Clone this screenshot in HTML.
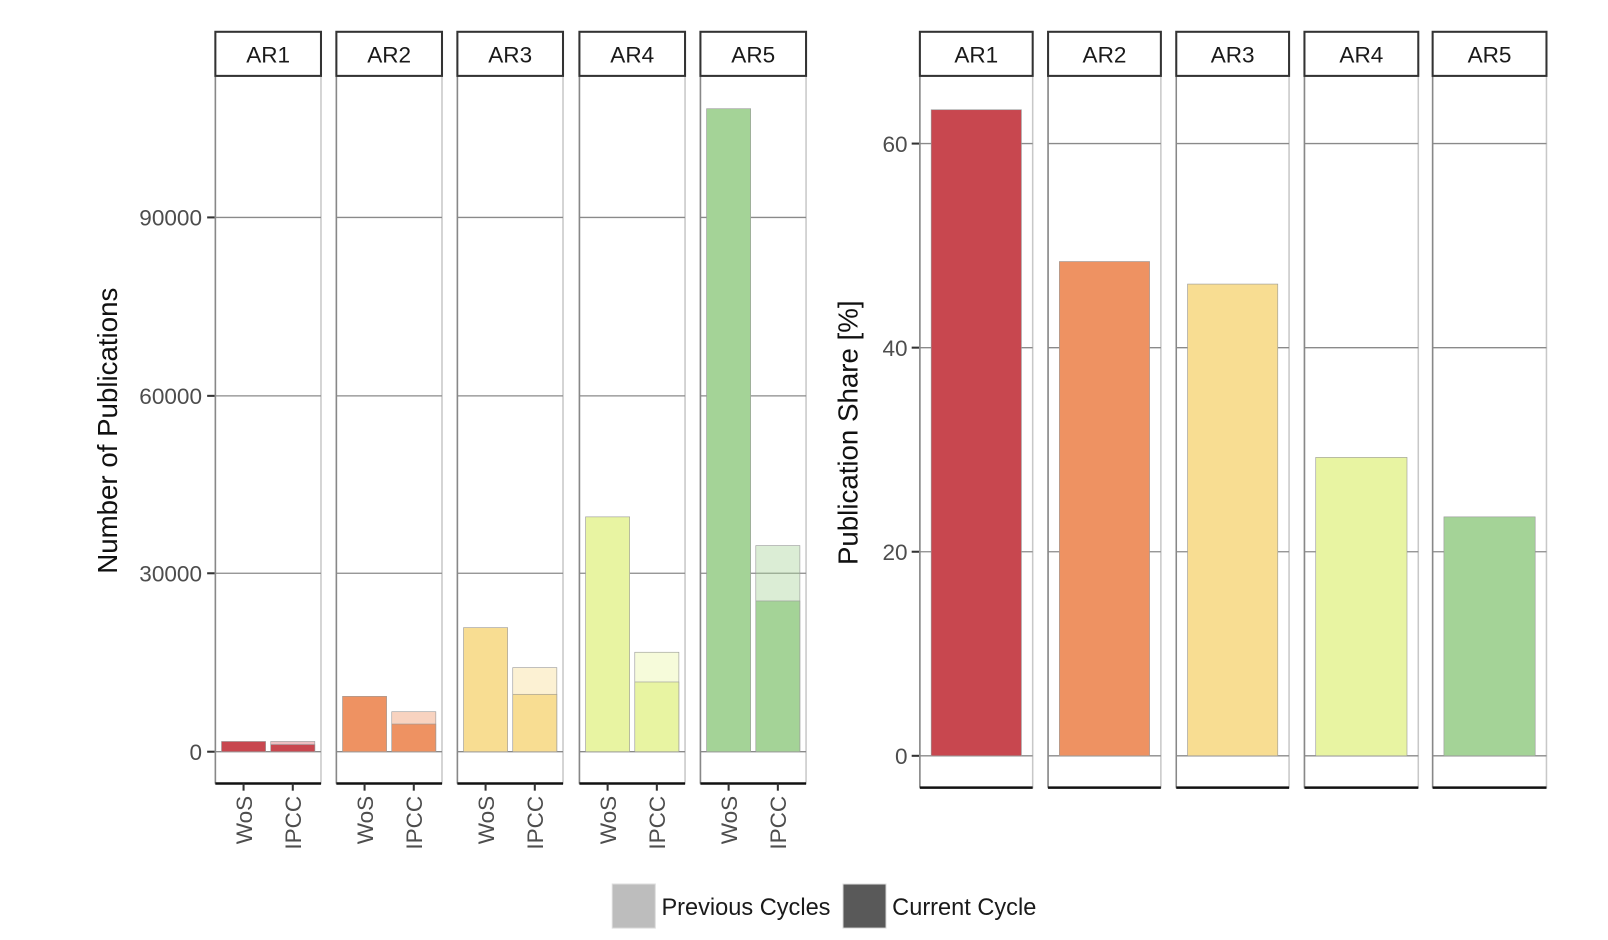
<!DOCTYPE html>
<html><head><meta charset="utf-8"><style>body{margin:0;background:#fff}svg{display:block}text{font-family:"Liberation Sans",sans-serif}</style></head><body>
<svg width="1608" height="940" viewBox="0 0 1568 916.6" preserveAspectRatio="none" xmlns="http://www.w3.org/2000/svg">
<g font-size="22" fill="#4d4d4d">
<text x="197" y="220" text-anchor="end">90000</text>
<text x="197" y="394" text-anchor="end">60000</text>
<text x="197" y="567" text-anchor="end">30000</text>
<text x="197" y="741" text-anchor="end">0</text>
</g>
<g stroke="#333" stroke-width="2"><line x1="202" y1="212" x2="210" y2="212"/><line x1="202" y1="386" x2="210" y2="386"/><line x1="202" y1="559" x2="210" y2="559"/><line x1="202" y1="733" x2="210" y2="733"/></g>
<text transform="translate(114,420) rotate(-90)" text-anchor="middle" font-size="27" fill="#111">Number of Publications</text>

<g>
<g transform="translate(210,0)">
<rect x="0" y="74" width="103" height="690" fill="#fff" stroke="#c8c8c8" stroke-width="1.5"/>
<g stroke="#8a8a8a" stroke-width="1.3"><line x1="0" y1="212" x2="103" y2="212"/><line x1="0" y1="386" x2="103" y2="386"/><line x1="0" y1="559" x2="103" y2="559"/><line x1="0" y1="733" x2="103" y2="733"/></g>
<line x1="0" y1="74" x2="0" y2="764" stroke="#888" stroke-width="1.5"/>
<rect x="6" y="723" width="43" height="10" fill="#c8474f" stroke="#999" stroke-width=".6"/>
<rect x="54" y="723" width="43" height="10" fill="#c8474f" fill-opacity=".35" stroke="#999" stroke-width=".6"/>
<rect x="54" y="726" width="43" height="7" fill="#c8474f" stroke="#999" stroke-width=".6"/>
</g>
<g transform="translate(328,0)">
<rect x="0" y="74" width="103" height="690" fill="#fff" stroke="#c8c8c8" stroke-width="1.5"/>
<g stroke="#8a8a8a" stroke-width="1.3"><line x1="0" y1="212" x2="103" y2="212"/><line x1="0" y1="386" x2="103" y2="386"/><line x1="0" y1="559" x2="103" y2="559"/><line x1="0" y1="733" x2="103" y2="733"/></g>
<line x1="0" y1="74" x2="0" y2="764" stroke="#888" stroke-width="1.5"/>
<rect x="6" y="679" width="43" height="54" fill="#ee9262" stroke="#999" stroke-width=".6"/>
<rect x="54" y="694" width="43" height="39" fill="#ee9262" fill-opacity=".4" stroke="#999" stroke-width=".6"/>
<rect x="54" y="706" width="43" height="27" fill="#ee9262" stroke="#999" stroke-width=".6"/>
</g>
<g transform="translate(446,0)">
<rect x="0" y="74" width="103" height="690" fill="#fff" stroke="#c8c8c8" stroke-width="1.5"/>
<g stroke="#8a8a8a" stroke-width="1.3"><line x1="0" y1="212" x2="103" y2="212"/><line x1="0" y1="386" x2="103" y2="386"/><line x1="0" y1="559" x2="103" y2="559"/><line x1="0" y1="733" x2="103" y2="733"/></g>
<line x1="0" y1="74" x2="0" y2="764" stroke="#888" stroke-width="1.5"/>
<rect x="6" y="612" width="43" height="121" fill="#f8dd92" stroke="#999" stroke-width=".6"/>
<rect x="54" y="651" width="43" height="82" fill="#f8dd92" fill-opacity=".4" stroke="#999" stroke-width=".6"/>
<rect x="54" y="677" width="43" height="56" fill="#f8dd92" stroke="#999" stroke-width=".6"/>
</g>
<g transform="translate(565,0)">
<rect x="0" y="74" width="103" height="690" fill="#fff" stroke="#c8c8c8" stroke-width="1.5"/>
<g stroke="#8a8a8a" stroke-width="1.3"><line x1="0" y1="212" x2="103" y2="212"/><line x1="0" y1="386" x2="103" y2="386"/><line x1="0" y1="559" x2="103" y2="559"/><line x1="0" y1="733" x2="103" y2="733"/></g>
<line x1="0" y1="74" x2="0" y2="764" stroke="#888" stroke-width="1.5"/>
<rect x="6" y="504" width="43" height="229" fill="#e8f4a2" stroke="#999" stroke-width=".6"/>
<rect x="54" y="636" width="43" height="97" fill="#e8f4a2" fill-opacity=".4" stroke="#999" stroke-width=".6"/>
<rect x="54" y="665" width="43" height="68" fill="#e8f4a2" stroke="#999" stroke-width=".6"/>
</g>
<g transform="translate(683,0)">
<rect x="0" y="74" width="103" height="690" fill="#fff" stroke="#c8c8c8" stroke-width="1.5"/>
<g stroke="#8a8a8a" stroke-width="1.3"><line x1="0" y1="212" x2="103" y2="212"/><line x1="0" y1="386" x2="103" y2="386"/><line x1="0" y1="559" x2="103" y2="559"/><line x1="0" y1="733" x2="103" y2="733"/></g>
<line x1="0" y1="74" x2="0" y2="764" stroke="#888" stroke-width="1.5"/>
<rect x="6" y="106" width="43" height="627" fill="#a4d397" stroke="#999" stroke-width=".6"/>
<rect x="54" y="532" width="43" height="201" fill="#a4d397" fill-opacity=".4" stroke="#999" stroke-width=".6"/>
<rect x="54" y="586" width="43" height="147" fill="#a4d397" stroke="#999" stroke-width=".6"/>
</g>
</g>
<g stroke="#333" stroke-width="2" fill="#fff">
<rect x="210" y="31" width="103" height="43"/><rect x="328" y="31" width="103" height="43"/><rect x="446" y="31" width="103" height="43"/><rect x="565" y="31" width="103" height="43"/><rect x="683" y="31" width="103" height="43"/>
</g>
<g font-size="22" fill="#1a1a1a" text-anchor="middle">
<text x="261.5" y="61">AR1</text><text x="379.5" y="61">AR2</text><text x="497.5" y="61">AR3</text><text x="616.5" y="61">AR4</text><text x="734.5" y="61">AR5</text>
</g>
<g stroke="#111" stroke-width="2.5">
<line x1="210" y1="764" x2="313" y2="764"/><line x1="328" y1="764" x2="431" y2="764"/><line x1="446" y1="764" x2="549" y2="764"/><line x1="565" y1="764" x2="668" y2="764"/><line x1="683" y1="764" x2="786" y2="764"/>
</g>
<g stroke="#333" stroke-width="2">
<line x1="237.5" y1="764" x2="237.5" y2="771"/><line x1="285.5" y1="764" x2="285.5" y2="771"/>
<line x1="355.5" y1="764" x2="355.5" y2="771"/><line x1="403.5" y1="764" x2="403.5" y2="771"/>
<line x1="473.5" y1="764" x2="473.5" y2="771"/><line x1="521.5" y1="764" x2="521.5" y2="771"/>
<line x1="592.5" y1="764" x2="592.5" y2="771"/><line x1="640.5" y1="764" x2="640.5" y2="771"/>
<line x1="710.5" y1="764" x2="710.5" y2="771"/><line x1="758.5" y1="764" x2="758.5" y2="771"/>
</g>
<g font-size="22" fill="#4d4d4d" text-anchor="end">
<text transform="translate(245.5,776) rotate(-90)">WoS</text><text transform="translate(293.5,776) rotate(-90)">IPCC</text>
<text transform="translate(363.5,776) rotate(-90)">WoS</text><text transform="translate(411.5,776) rotate(-90)">IPCC</text>
<text transform="translate(481.5,776) rotate(-90)">WoS</text><text transform="translate(529.5,776) rotate(-90)">IPCC</text>
<text transform="translate(600.5,776) rotate(-90)">WoS</text><text transform="translate(648.5,776) rotate(-90)">IPCC</text>
<text transform="translate(718.5,776) rotate(-90)">WoS</text><text transform="translate(766.5,776) rotate(-90)">IPCC</text>
</g>

<g font-size="22" fill="#4d4d4d" text-anchor="end">
<text x="885" y="148">60</text><text x="885" y="347">40</text><text x="885" y="546">20</text><text x="885" y="745">0</text>
</g>
<g stroke="#333" stroke-width="2"><line x1="889" y1="140" x2="897" y2="140"/><line x1="889" y1="339" x2="897" y2="339"/><line x1="889" y1="538" x2="897" y2="538"/><line x1="889" y1="737" x2="897" y2="737"/></g>
<text transform="translate(836,422) rotate(-90)" text-anchor="middle" font-size="27" fill="#111">Publication Share [%]</text>
<g>
<g transform="translate(897,0)">
<rect x="0" y="74" width="110" height="694" fill="#fff" stroke="#c8c8c8" stroke-width="1.5"/>
<g stroke="#8a8a8a" stroke-width="1.3"><line x1="0" y1="140" x2="110" y2="140"/><line x1="0" y1="339" x2="110" y2="339"/><line x1="0" y1="538" x2="110" y2="538"/><line x1="0" y1="737" x2="110" y2="737"/></g>
<line x1="0" y1="74" x2="0" y2="768" stroke="#888" stroke-width="1.5"/>
<rect x="11" y="107" width="88" height="630" fill="#c8474f" stroke="#999" stroke-width=".6"/>
</g>
<g transform="translate(1022,0)">
<rect x="0" y="74" width="110" height="694" fill="#fff" stroke="#c8c8c8" stroke-width="1.5"/>
<g stroke="#8a8a8a" stroke-width="1.3"><line x1="0" y1="140" x2="110" y2="140"/><line x1="0" y1="339" x2="110" y2="339"/><line x1="0" y1="538" x2="110" y2="538"/><line x1="0" y1="737" x2="110" y2="737"/></g>
<line x1="0" y1="74" x2="0" y2="768" stroke="#888" stroke-width="1.5"/>
<rect x="11" y="255" width="88" height="482" fill="#ee9262" stroke="#999" stroke-width=".6"/>
</g>
<g transform="translate(1147,0)">
<rect x="0" y="74" width="110" height="694" fill="#fff" stroke="#c8c8c8" stroke-width="1.5"/>
<g stroke="#8a8a8a" stroke-width="1.3"><line x1="0" y1="140" x2="110" y2="140"/><line x1="0" y1="339" x2="110" y2="339"/><line x1="0" y1="538" x2="110" y2="538"/><line x1="0" y1="737" x2="110" y2="737"/></g>
<line x1="0" y1="74" x2="0" y2="768" stroke="#888" stroke-width="1.5"/>
<rect x="11" y="277" width="88" height="460" fill="#f8dd92" stroke="#999" stroke-width=".6"/>
</g>
<g transform="translate(1272,0)">
<rect x="0" y="74" width="111" height="694" fill="#fff" stroke="#c8c8c8" stroke-width="1.5"/>
<g stroke="#8a8a8a" stroke-width="1.3"><line x1="0" y1="140" x2="111" y2="140"/><line x1="0" y1="339" x2="111" y2="339"/><line x1="0" y1="538" x2="111" y2="538"/><line x1="0" y1="737" x2="111" y2="737"/></g>
<line x1="0" y1="74" x2="0" y2="768" stroke="#888" stroke-width="1.5"/>
<rect x="11" y="446" width="89" height="291" fill="#e8f4a2" stroke="#999" stroke-width=".6"/>
</g>
<g transform="translate(1397,0)">
<rect x="0" y="74" width="111" height="694" fill="#fff" stroke="#c8c8c8" stroke-width="1.5"/>
<g stroke="#8a8a8a" stroke-width="1.3"><line x1="0" y1="140" x2="111" y2="140"/><line x1="0" y1="339" x2="111" y2="339"/><line x1="0" y1="538" x2="111" y2="538"/><line x1="0" y1="737" x2="111" y2="737"/></g>
<line x1="0" y1="74" x2="0" y2="768" stroke="#888" stroke-width="1.5"/>
<rect x="11" y="504" width="89" height="233" fill="#a4d397" stroke="#999" stroke-width=".6"/>
</g>
</g>
<g stroke="#333" stroke-width="2" fill="#fff">
<rect x="897" y="31" width="110" height="43"/><rect x="1022" y="31" width="110" height="43"/><rect x="1147" y="31" width="110" height="43"/><rect x="1272" y="31" width="111" height="43"/><rect x="1397" y="31" width="111" height="43"/>
</g>
<g font-size="22" fill="#1a1a1a" text-anchor="middle">
<text x="952" y="61">AR1</text><text x="1077" y="61">AR2</text><text x="1202" y="61">AR3</text><text x="1327.5" y="61">AR4</text><text x="1452.5" y="61">AR5</text>
</g>
<g stroke="#111" stroke-width="2.5">
<line x1="897" y1="768" x2="1007" y2="768"/><line x1="1022" y1="768" x2="1132" y2="768"/><line x1="1147" y1="768" x2="1257" y2="768"/><line x1="1272" y1="768" x2="1383" y2="768"/><line x1="1397" y1="768" x2="1508" y2="768"/>
</g>

<rect x="597" y="862" width="42" height="43" fill="#bdbdbd" stroke="#ddd"/>
<text x="645" y="892" font-size="23" fill="#1a1a1a">Previous Cycles</text>
<rect x="822" y="862" width="42" height="43" fill="#595959" stroke="#ddd"/>
<text x="870" y="892" font-size="23" fill="#1a1a1a">Current Cycle</text>
</svg>
</body></html>
